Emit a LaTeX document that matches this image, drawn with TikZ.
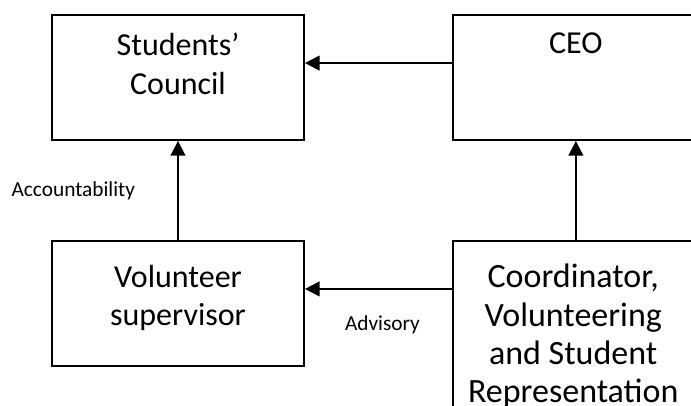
\documentclass[tikz,border=0pt]{standalone}
\usepackage{fontspec}
\setmainfont{Carlito}
\usetikzlibrary{arrows.meta,positioning}

\begin{document}
\begin{tikzpicture}
% STYLES
\tikzset{%
    unit/.style={%
        rectangle, draw, line width=1.4pt,
        minimum width=189pt, minimum height=93.75pt, inner sep=0pt
    },
    unittext/.style={%
        anchor=north, align=center, inner sep=0pt,
        font=\fontsize{24}{29}\selectfont
    },
    link/.style={line width=1.4pt, -{Triangle[length=11pt,width=11pt]}},
    tag/.style={font=\fontsize{16}{19}\selectfont, inner sep=0pt}
}
\clip (0,0) rectangle (518.25pt,303.75pt);
% Draw units
\node [unit, label={[unittext, yshift=-14pt]north:{Students'\\Council}}] (council) at (133.5pt,245.625pt) {};
\node [unit, minimum width=184.5pt, right=110.25pt of council,
       label={[unittext, yshift=-14pt]north:{CEO}}] (ceo) {};
\node [unit, below=74.25pt of council,
       label={[unittext, yshift=-18.5pt]north:{Volunteer\\supervisor}}] (volunteer) {};
\node [unit, minimum width=184.5pt, minimum height=150pt, below=74.25pt of ceo,
       label={[unittext, font=\fontsize{25.5}{28.7}\selectfont, yshift=-18pt, xshift=-2pt]north:{Coordinator,\\Volunteering\\and Student\\Representation}}] (coordinator) {};
% Draw the links between units
\path[link]
    ([yshift=-36.75pt]ceo.north west) edge ([yshift=-36.75pt]council.north east)
    (volunteer.north) edge node[tag, left=31.5pt] {Accountability} (council.south)
    (coordinator.north) edge (ceo.south)
    ([yshift=-36.75pt]coordinator.north west) edge node[tag, below=19pt, xshift=3pt] {Advisory} ([yshift=-36.75pt]volunteer.north east);
\end{tikzpicture}
\end{document}
